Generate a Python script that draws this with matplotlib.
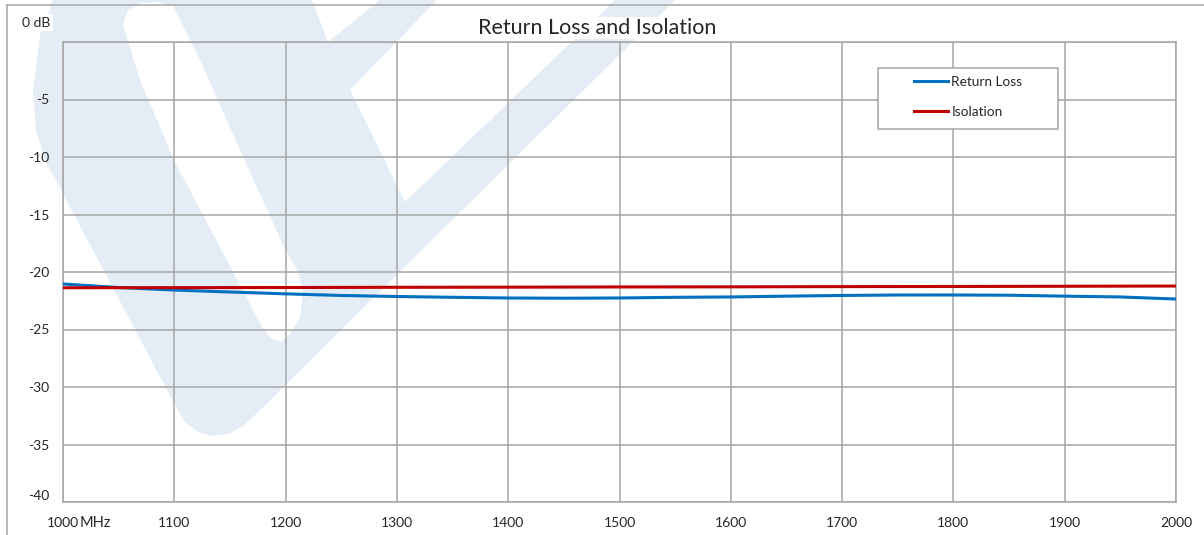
import matplotlib
matplotlib.use("Agg")
from matplotlib import pyplot as plt
from matplotlib.patches import Polygon, Rectangle
from matplotlib.lines import Line2D

plt.rcParams['font.family'] = ['Lato', 'DejaVu Sans']

# data
freq = [1000, 1050, 1100, 1150, 1200, 1250, 1300, 1350, 1400, 1450, 1500,
        1550, 1600, 1650, 1700, 1750, 1800, 1850, 1900, 1950, 2000]
return_loss = [-21.04, -21.35, -21.57, -21.74, -21.90, -22.04, -22.13, -22.20, -22.26, -22.28, -22.26,
               -22.20, -22.17, -22.10, -22.04, -22.00, -22.00, -22.02, -22.10, -22.17, -22.35]
iso_freq = [1000, 1100, 1200, 1300, 1400, 1500, 1600, 1700, 1800, 1900, 2000]
isolation = [-21.37, -21.36, -21.35, -21.33, -21.32, -21.30, -21.29, -21.27, -21.26, -21.24, -21.22]

x_ticks = list(range(1000, 2001, 100))
y_ticks = list(range(0, -41, -5))

W, H = 1204, 535
fig = plt.figure(figsize=(W / 100, H / 100), dpi=100)
fig.patch.set_facecolor('white')


def px(pts):
    # pixel coords (from top-left) -> figure fraction
    return [(x / W, 1 - y / H) for x, y in pts]


# light blue watermark logo behind the chart
wm = '#e4edf6'
hull = [(53, 0), (40, 35), (33, 90), (36, 130), (45, 160), (175, 405), (185, 422), (198, 432),
        (212, 436), (228, 434), (242, 427), (252, 418), (675, 0)]
tongue = [(123, 25), (128, 10), (140, 3), (158, 2), (173, 6), (200, 60), (240, 150), (283, 245),
          (298, 272), (303, 292), (300, 318), (290, 334), (281, 342), (271, 338), (263, 329),
          (233, 272), (174, 160), (140, 80)]
notch = [(312, 0), (380, 0), (328, 42)]
wedge = [(437, 0), (615, 0), (405, 202), (350, 90)]
fig.patches.append(Polygon(px(hull), closed=True, fc=wm, ec='none', transform=fig.transFigure, zorder=-5))
for shape in (tongue, notch, wedge):
    fig.patches.append(Polygon(px(shape), closed=True, fc='white', ec='none',
                               transform=fig.transFigure, zorder=-4))

# chart area border (only left and top are inside the picture)
grey = '#a6a6a6'
fig.lines.append(Line2D([7 / W, 7 / W], [0, 1 - 5 / H], color=grey, lw=1.1, transform=fig.transFigure))
fig.lines.append(Line2D([7 / W, 1], [1 - 5 / H, 1 - 5 / H], color=grey, lw=1.1, transform=fig.transFigure))

ax = fig.add_axes([63 / W, 1 - 502 / H, 1113 / W, 460 / H])
ax.set_facecolor('none')

ax.plot(freq, return_loss, color='#0070c0', lw=2.2, label='Return Loss', zorder=3)
ax.plot(iso_freq, isolation, color='#c00000', lw=2.2, label='Isolation', zorder=4)

ax.set_xlim(1000, 2000)
ax.set_ylim(-40, 0)
ax.set_xticks(x_ticks)
ax.set_yticks(y_ticks)
ax.set_yticklabels([''] + [str(v) for v in y_ticks[1:]])
ax.grid(True, color=grey, lw=1.1)
ax.set_axisbelow(True)
for s in ax.spines.values():
    s.set_color(grey)
    s.set_linewidth(1.1)
ax.tick_params(length=0, labelsize=10, colors='#262626')
ax.tick_params(axis='y', pad=10)
ax.tick_params(axis='x', pad=11)
ax.get_yticklabels()[-1].set_verticalalignment('bottom')

ax.text(-0.0116, 1.042, '0 dB', transform=ax.transAxes, ha='right', va='center', fontsize=10,
        color='#262626', bbox=dict(fc='white', ec='none', pad=2))
ax.text(0.0153, -0.03, 'MHz', transform=ax.transAxes, ha='left', va='top', fontsize=10.5,
        color='#262626')

fig.text(597 / W, 1 - 28 / H, 'Return Loss and Isolation', ha='center', va='center', fontsize=15.5,
         color='#262626', bbox=dict(fc='white', ec='none', pad=1))

# legend: frame drawn separately so the entries can sit inset like the original
frame = Rectangle((878 / W, 1 - 129 / H), 180 / W, 61 / H, transform=fig.transFigure,
                  fc='white', ec=grey, lw=1.1, zorder=5, clip_on=False)
ax.add_patch(frame)
leg = ax.legend(loc='upper left', bbox_to_anchor=(914 / W, 1 - 76 / H), bbox_transform=fig.transFigure,
                frameon=False, fontsize=9.8, handlelength=2.5, handletextpad=0.25,
                borderpad=0, labelspacing=1.3, borderaxespad=0)
leg.set_zorder(6)
for t in leg.get_texts():
    t.set_color('#262626')

fig.savefig('out.png', dpi=100, facecolor='white')
